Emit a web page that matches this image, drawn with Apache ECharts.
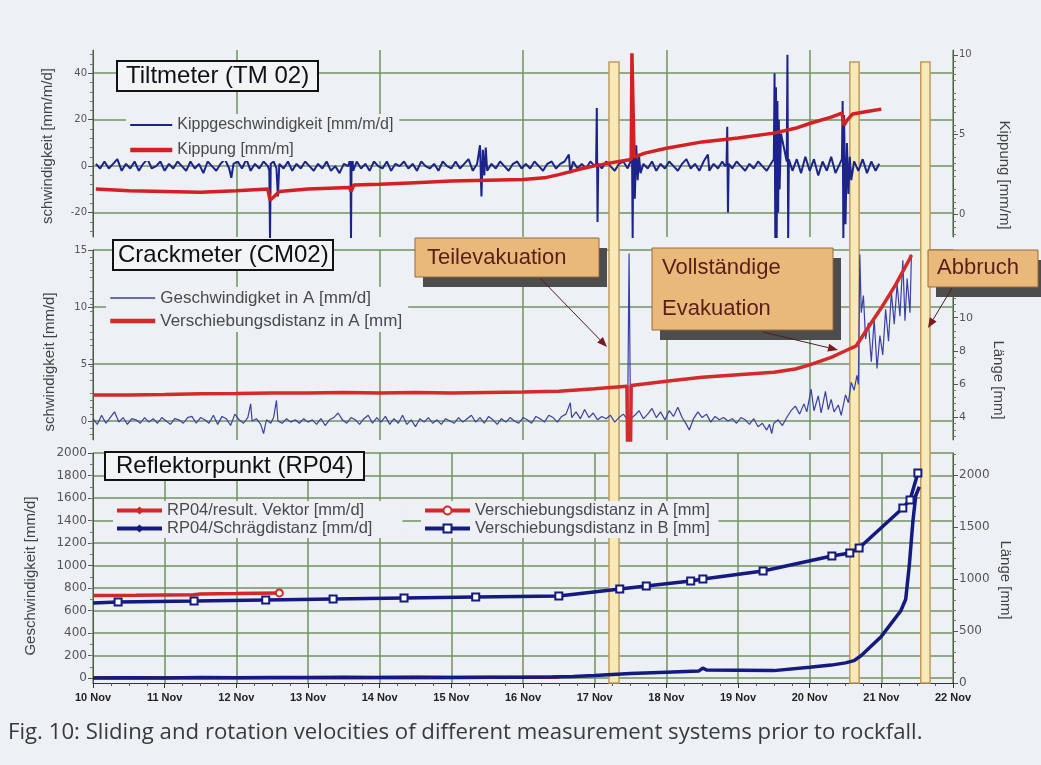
<!DOCTYPE html>
<html lang="de">
<head>
<meta charset="UTF-8">
<title>Sliding and rotation velocities prior to rockfall</title>
<script src="https://cdn.jsdelivr.net/npm/echarts@6.0.0/dist/echarts.min.js"></script>
<style>
  body { margin: 0; background: #edf0f4; }
  #main { width: 1041px; height: 765px; }
</style>
</head>
<body>
<div id="main"></div>
<script type="text/javascript">
// x values are days of November
var dayTicks = [10, 11, 12, 13, 14, 15, 16, 17, 18, 19, 20, 21, 22];

// evacuation / abort periods (shaded bands)
var bandRanges = [[17.2, 17.34], [20.56, 20.69], [21.55, 21.68]];

// --- Tiltmeter TM 02 ---
var tiltRate = [
  [10.04,1],[10.1,-1],[10.16,2],[10.22,-1],[10.28,1],[10.34,3],[10.4,-2],[10.46,1],[10.52,-1],[10.58,2],
  [10.64,-2],[10.7,1],[10.76,3],[10.82,-1],[10.88,0],[10.94,2],[11.0,-2],[11.06,1],[11.12,-1],[11.18,2],
  [11.24,0],[11.3,-2],[11.36,2],[11.42,-1],[11.48,1],[11.54,-3],[11.6,2],[11.66,0],[11.72,-2],[11.78,1],
  [11.84,3],[11.9,-1],[11.93,-5],[11.96,1],[12.02,2],[12.08,-1],[12.14,3],[12.2,-2],[12.26,1],[12.32,-1],
  [12.38,2],[12.44,0],[12.46,-2],[12.47,-31],[12.48,1],[12.52,2],[12.56,-1],[12.58,-13],[12.6,1],[12.66,-1],
  [12.72,2],[12.78,-2],[12.84,1],[12.9,-1],[12.96,2],[13.02,0],[13.08,-2],[13.14,1],[13.2,-1],[13.26,2],
  [13.32,-2],[13.38,0],[13.44,-3],[13.5,1],[13.56,0],[13.58,2],[13.59,14],[13.6,-31],[13.61,11],[13.63,-2],
  [13.68,2],[13.74,-1],[13.8,1],[13.86,-2],[13.92,2],[13.98,0],[14.04,-1],[14.1,2],[14.16,-2],[14.22,1],
  [14.28,0],[14.34,2],[14.4,-1],[14.46,1],[14.52,-2],[14.58,2],[14.64,0],[14.7,-1],[14.76,1],[14.82,-2],
  [14.88,2],[14.94,0],[15.0,-1],[15.06,2],[15.12,-1],[15.18,1],[15.24,3],[15.3,-2],[15.36,1],[15.4,9],
  [15.42,-13],[15.44,7],[15.46,-4],[15.48,8],[15.5,-2],[15.56,1],[15.62,-1],[15.68,2],[15.74,0],[15.8,-2],
  [15.86,1],[15.92,2],[15.98,-1],[16.04,1],[16.1,-1],[16.16,2],[16.22,0],[16.28,-2],[16.34,1],[16.4,2],
  [16.46,-1],[16.52,1],[16.58,2],[16.64,5],[16.66,-3],[16.7,2],[16.76,-1],[16.82,1],[16.88,-1],[16.94,2],
  [17.0,0],[17.02,1],[17.03,25],[17.04,-24],[17.05,1],[17.1,-1],[17.16,2],[17.22,0],[17.28,-2],[17.34,1],
  [17.4,2],[17.46,-1],[17.5,2],[17.52,10],[17.53,-31],[17.54,16],[17.56,-14],[17.58,9],[17.6,-6],[17.62,4],
  [17.64,-3],[17.68,1],[17.74,-1],[17.8,2],[17.86,-2],[17.92,1],[17.98,-1],[18.04,2],[18.1,0],[18.16,-2],
  [18.22,1],[18.28,3],[18.34,-1],[18.4,1],[18.46,-2],[18.52,2],[18.58,5],[18.6,-2],[18.66,1],[18.72,-1],
  [18.78,2],[18.82,0],[18.84,1],[18.85,17],[18.86,-20],[18.87,1],[18.92,-1],[18.98,2],[19.04,0],[19.1,-2],
  [19.16,1],[19.22,-1],[19.28,2],[19.34,0],[19.4,-2],[19.46,1],[19.5,3],[19.51,40],[19.52,-31],[19.53,34],
  [19.54,-31],[19.55,28],[19.56,-20],[19.57,20],[19.58,-10],[19.6,14],[19.64,8],[19.68,2],[19.69,48],[19.7,-31],
  [19.71,3],[19.76,-2],[19.82,3],[19.88,-3],[19.94,4],[20.0,-2],[20.06,3],[20.12,-4],[20.18,2],[20.24,-2],
  [20.3,4],[20.36,-3],[20.42,1],[20.45,3],[20.46,28],[20.47,-31],[20.48,22],[20.5,-25],[20.52,10],[20.54,-12],
  [20.56,4],[20.58,-6],[20.62,2],[20.68,-2],[20.74,3],[20.8,-3],[20.86,2],[20.92,-2],[20.97,1]
];
var tiltAngle = [
  [10.04,1.6],[10.5,1.5],[11.0,1.45],[11.5,1.4],[12.0,1.5],[12.44,1.6],[12.47,0.9],[12.52,1.1],[12.6,1.45],
  [13.0,1.6],[13.58,1.7],[13.6,1.45],[13.64,1.85],[14.0,1.9],[14.5,2.0],[15.0,2.1],[15.5,2.15],[16.0,2.2],
  [16.3,2.3],[16.5,2.5],[16.8,2.85],[17.0,3.05],[17.3,3.3],[17.51,3.45],[17.52,10.1],[17.54,10.1],[17.55,3.6],
  [17.7,3.85],[18.0,4.15],[18.5,4.55],[19.0,4.8],[19.5,5.1],[19.8,5.4],[20.0,5.7],[20.3,6.1],[20.45,6.35],
  [20.48,5.6],[20.52,5.9],[20.6,6.3],[20.8,6.45],[21.0,6.6]
];

// --- Crackmeter CM02 ---
var crackRate = [
  [10.0,0.2],[10.06,-0.3],[10.12,0.5],[10.18,-0.2],[10.24,0.3],[10.3,0.8],[10.36,-0.1],[10.42,0.3],[10.48,-0.3],
  [10.54,0.2],[10.6,0.1],[10.66,-0.2],[10.72,0.3],[10.78,-0.1],[10.84,0.2],[10.9,-0.2],[10.96,0.3],[11.02,0.0],
  [11.08,-0.3],[11.14,0.2],[11.2,0.1],[11.26,-0.2],[11.32,0.3],[11.38,0.4],[11.44,-0.2],[11.5,0.3],[11.56,0.1],
  [11.62,-0.2],[11.68,0.5],[11.74,-0.3],[11.8,0.4],[11.86,0.2],[11.92,-0.4],[11.98,0.6],[12.04,0.1],[12.1,-0.2],
  [12.16,0.3],[12.2,1.5],[12.22,0.0],[12.28,0.2],[12.34,-0.3],[12.38,-1.1],[12.42,0.1],[12.48,-0.2],[12.52,0.3],
  [12.56,1.8],[12.58,0.0],[12.64,-0.2],[12.7,0.2],[12.76,-0.1],[12.82,0.1],[12.88,-0.2],[12.94,0.2],[13.0,-0.1],
  [13.06,0.1],[13.12,-0.3],[13.18,0.2],[13.24,-0.4],[13.3,0.1],[13.36,0.3],[13.42,0.7],[13.48,0.1],[13.54,-0.2],
  [13.6,0.3],[13.66,0.1],[13.72,-0.3],[13.78,0.2],[13.84,0.5],[13.9,-0.2],[13.96,0.3],[14.02,-0.1],[14.08,0.4],
  [14.14,-0.3],[14.2,0.2],[14.26,-0.2],[14.32,0.5],[14.38,-0.3],[14.44,0.1],[14.5,-0.5],[14.56,0.2],[14.62,-0.1],
  [14.68,0.3],[14.74,-0.2],[14.8,0.1],[14.86,-0.3],[14.92,0.2],[14.98,0.0],[15.04,-0.2],[15.1,0.3],[15.16,-0.1],
  [15.22,0.2],[15.28,0.5],[15.34,-0.1],[15.4,0.3],[15.46,-0.2],[15.52,0.4],[15.58,0.1],[15.64,-0.3],[15.7,0.2],
  [15.76,-0.1],[15.82,0.3],[15.88,0.0],[15.94,-0.2],[16.0,0.3],[16.06,0.1],[16.12,-0.2],[16.18,0.4],[16.24,0.2],
  [16.3,-0.1],[16.36,0.5],[16.42,0.3],[16.48,-0.1],[16.54,0.4],[16.6,0.6],[16.66,1.6],[16.68,0.3],[16.74,0.8],
  [16.8,0.2],[16.86,1.0],[16.92,0.3],[16.98,0.7],[17.04,0.1],[17.1,0.4],[17.16,0.2],[17.22,0.5],[17.28,-0.1],
  [17.34,0.3],[17.4,0.6],[17.46,0.1],[17.48,14.7],[17.5,0.2],[17.56,0.5],[17.62,0.9],[17.68,0.2],[17.74,0.6],
  [17.8,1.1],[17.86,0.3],[17.92,0.8],[17.98,0.1],[18.04,0.9],[18.1,0.4],[18.16,1.2],[18.22,0.3],[18.28,-0.3],
  [18.32,-0.8],[18.38,0.2],[18.44,0.8],[18.5,0.3],[18.56,0.6],[18.62,-0.1],[18.68,0.4],[18.74,0.1],[18.8,0.3],
  [18.86,0.0],[18.92,0.2],[18.98,-0.2],[19.04,0.3],[19.1,0.1],[19.16,-0.3],[19.22,0.2],[19.28,-0.5],[19.34,-0.2],
  [19.4,-0.8],[19.44,-0.3],[19.47,-1.1],[19.5,-0.2],[19.56,0.1],[19.62,-0.4],[19.68,0.3],[19.74,0.9],[19.8,1.3],
  [19.86,0.6],[19.92,1.5],[19.96,0.8],[20.02,2.8],[20.06,0.9],[20.12,2.2],[20.16,0.7],[20.22,2.6],[20.26,1.0],
  [20.3,1.9],[20.34,0.8],[20.4,1.4],[20.44,0.5],[20.5,2.3],[20.54,1.6],[20.58,3.4],[20.62,2.7],[20.66,4.0],
  [20.68,3.2],[20.7,14.6],[20.72,9.5],[20.75,11.0],[20.78,7.2],[20.82,8.6],[20.86,5.2],[20.9,8.9],[20.94,4.6],
  [20.98,7.5],[21.02,5.8],[21.06,9.8],[21.1,7.0],[21.14,11.3],[21.18,8.5],[21.22,12.0],[21.26,9.2],[21.3,14.1],
  [21.33,8.8],[21.36,12.5],[21.4,9.5],[21.42,14.6]
];
var crackDist = [
  [10.0,5.33],[10.5,5.33],[11.0,5.35],[11.5,5.4],[12.0,5.42],[12.5,5.45],[13.0,5.45],[13.5,5.47],[14.0,5.45],
  [14.5,5.47],[15.0,5.45],[15.5,5.48],[16.0,5.5],[16.5,5.55],[17.0,5.7],[17.45,5.85],[17.46,2.0],[17.5,2.0],
  [17.51,5.9],[18.0,6.15],[18.5,6.4],[19.0,6.55],[19.5,6.7],[19.8,6.9],[20.0,7.15],[20.3,7.6],[20.5,8.0],
  [20.65,8.3],[20.8,9.3],[21.0,10.6],[21.2,12.0],[21.4,13.6],[21.42,13.8]
];

// --- Reflektorpunkt RP04 ---
var rpVector = [[10.0,2],[12.0,3],[14.0,4],[16.0,6],[16.5,8]];
var rpSlope = [
  [10.0,0],[10.5,2],[11.0,1],[11.5,4],[12.0,2],[12.5,5],[13.0,4],[13.5,6],[14.0,4],[14.5,6],[15.0,5],[15.5,7],
  [16.0,6],[16.4,9],[16.7,14],[17.0,22],[17.5,40],[18.0,52],[18.45,62],[18.51,88],[18.56,72],[19.0,70],[19.5,66],
  [20.0,95],[20.3,115],[20.5,135],[20.62,155],[20.72,200],[21.0,370],[21.27,596],[21.34,700],[21.39,1000],
  [21.44,1390],[21.48,1620],[21.53,1700]
];
var rpDistA = [[10.0,842],[10.6,844],[11.4,848],[11.5,856],[12.0,860],[12.6,866]];
var rpDistB = [
  [10.0,769],[10.35,779],[11.41,788],[12.41,798],[13.35,808],[14.34,817],[15.34,827],[16.5,837],[17.35,904],
  [17.72,933],[18.34,981],[18.51,1000],[19.35,1077],[20.31,1221],[20.56,1250],[20.69,1298],[21.3,1683],
  [21.4,1760],[21.51,2019]
];

var bg = '#edf0f4';
var gridGreen = '#6f9560';
var labelFont = { color: '#555', fontFamily: 'DejaVu Sans', fontSize: 10 };

function yAxisFor(gridIndex, min, max, ticks, right, fontSize) {
  return {
    type: 'value', gridIndex: gridIndex, position: right ? 'right' : 'left',
    min: min, max: max,
    axisLine: { show: true, lineStyle: { color: '#555', width: 1 } },
    axisTick: { show: true, length: 5, customValues: ticks, lineStyle: { color: '#555' } },
    minorTick: { show: true, splitNumber: 5, length: 3, lineStyle: { color: '#777' } },
    axisLabel: Object.assign({ customValues: ticks, margin: 6, formatter: function (v) { return String(v); } },
      labelFont, { fontSize: fontSize }),
    splitLine: { show: !right, lineStyle: { color: gridGreen, width: 1.5 } }
  };
}

function xAxisFor(gridIndex, interval, withLabels) {
  return {
    type: 'value', gridIndex: gridIndex, min: 10, max: 22, interval: interval,
    axisLine: { show: withLabels, onZero: false, lineStyle: { color: '#333' } },
    axisTick: { show: withLabels, length: 5, lineStyle: { color: '#333' } },
    minorTick: { show: withLabels, splitNumber: 4, length: 3, lineStyle: { color: '#555' } },
    axisLabel: {
      show: withLabels, margin: 9, fontSize: 11, fontWeight: 'bold', color: '#222',
      fontFamily: 'Liberation Sans',
      formatter: function (v) { return v + ' Nov'; }
    },
    splitLine: { show: true, lineStyle: { color: gridGreen, width: 1.5 } }
  };
}

// small arrow from a note box to a band
function arrow(x0, y0, x1, y1) {
  var len = Math.sqrt((x1 - x0) * (x1 - x0) + (y1 - y0) * (y1 - y0));
  var ux = (x1 - x0) / len, uy = (y1 - y0) / len;
  var bx = x1 - 10 * ux, by = y1 - 10 * uy;
  return [
    { type: 'line', z: 100, shape: { x1: x0, y1: y0, x2: bx, y2: by }, style: { stroke: '#4a2020', lineWidth: 1 } },
    { type: 'polygon', z: 100, shape: { points: [[x1, y1], [bx - 4 * uy, by + 4 * ux], [bx + 4 * uy, by - 4 * ux]] },
      style: { fill: '#7a1a1a' } }
  ];
}

function noteBox(x, y, w, h, lines) {
  var els = [
    { type: 'rect', z: 99, shape: { x: x + 8, y: y + 10, width: w, height: h }, style: { fill: '#4d4d4d' } },
    { type: 'rect', z: 100, shape: { x: x, y: y, width: w, height: h },
      style: { fill: '#e9b97c', stroke: '#9a6a3a', lineWidth: 1 } }
  ];
  lines.forEach(function (l) {
    els.push({ type: 'text', z: 101, x: l[0], y: l[1],
      style: { text: l[2], fontSize: 22, fontFamily: 'Liberation Sans', fill: '#5a1e16',
               textAlign: 'left', textVerticalAlign: 'middle' } });
  });
  return els;
}

function axisName(x, y, text, rot) {
  return { type: 'text', z: 50, x: x, y: y, rotation: rot,
    style: { text: text, fontSize: 15, fontFamily: 'Liberation Sans', fill: '#444',
             textAlign: 'center', textVerticalAlign: 'middle' } };
}

var graphics = []
  .concat([
    axisName(48, 146, 'schwindigkeit [mm/m/d]', Math.PI / 2),
    axisName(1004, 175, 'Kippung [mm/m]', -Math.PI / 2),
    axisName(50, 362, 'schwindigkeit [mm/d]', Math.PI / 2),
    axisName(998, 380, 'Länge [mm]', -Math.PI / 2),
    axisName(31, 576, 'Geschwindigkeit [mm/d]', Math.PI / 2),
    axisName(1005, 580, 'Länge [mm]', -Math.PI / 2)
  ])
  .concat(noteBox(415, 238, 184, 39, [[427, 258, 'Teilevakuation']]))
  .concat(noteBox(652, 248, 181, 82, [[662, 268, 'Vollständige'], [662, 309, 'Evakuation']]))
  .concat(noteBox(928, 250, 110, 37, [[937, 268, 'Abbruch']]))
  .concat(arrow(540, 278, 607, 347))
  .concat(arrow(763, 332, 838, 350))
  .concat(arrow(952, 288, 928, 328));

var titleStyle = { fontSize: 24, fontWeight: 'normal', color: '#111', fontFamily: 'Liberation Sans' };
var legendText = { color: '#4a4a4a', fontFamily: 'Liberation Sans' };
// plain line icons (no marker) for the upper two legends
var noMarker = { opacity: 0 };
var thick = { width: 4 };

var myChart = echarts.init(document.getElementById('main'));

var option = {
  backgroundColor: bg,
  animation: false,
  title: [
    { text: 'Tiltmeter (TM 02)', left: 117, top: 61, padding: [3, 9], borderColor: '#111', borderWidth: 2,
      backgroundColor: '#f3f4f6', textStyle: titleStyle },
    { text: 'Crackmeter (CM02)', left: 113, top: 240, padding: [3, 5], borderColor: '#111', borderWidth: 2,
      backgroundColor: '#f3f4f6', textStyle: titleStyle },
    { text: 'Reflektorpunkt (RP04)', left: 105, top: 452, padding: [2, 11], borderColor: '#111', borderWidth: 2,
      backgroundColor: '#f3f4f6', textStyle: titleStyle },
    { text: 'Fig. 10: Sliding and rotation velocities of different measurement systems prior to rockfall.',
      left: 8, top: 722, padding: 0,
      textStyle: { fontSize: 22.2, fontWeight: 'normal', color: '#3a3a3a', fontFamily: 'Open Sans' } }
  ],
  legend: [
    { left: 126, top: 114, orient: 'vertical', selectedMode: false, itemWidth: 42, itemHeight: 12, itemGap: 7,
      backgroundColor: bg, padding: [2, 6, 2, 2], itemStyle: noMarker,
      textStyle: Object.assign({ fontSize: 16, lineHeight: 18 }, legendText),
      data: [
        { name: 'Kippgeschwindigkeit [mm/m/d]', lineStyle: { width: 2 } },
        { name: 'Kippung [mm/m]', lineStyle: { width: 4.5 } }
      ] },
    { left: 106, top: 287, orient: 'vertical', selectedMode: false, itemWidth: 45, itemHeight: 12, itemGap: 5,
      backgroundColor: bg, padding: [2, 6, 2, 2], itemStyle: noMarker,
      textStyle: Object.assign({ fontSize: 17, lineHeight: 18 }, legendText),
      data: [
        { name: 'Geschwindigket in A [mm/d]', lineStyle: { width: 1.5 } },
        { name: 'Verschiebungsdistanz in A [mm]', lineStyle: { width: 4.5 } }
      ] },
    { left: 113, top: 501, orient: 'vertical', selectedMode: false, itemWidth: 45, itemHeight: 10, itemGap: 1,
      backgroundColor: bg, padding: [1, 30, 1, 2],
      textStyle: Object.assign({ fontSize: 16.5, lineHeight: 16 }, legendText),
      data: [
        { name: 'RP04/result. Vektor [mm/d]', lineStyle: thick },
        { name: 'RP04/Schrägdistanz [mm/d]', lineStyle: thick }
      ] },
    { left: 421, top: 501, orient: 'vertical', selectedMode: false, itemWidth: 45, itemHeight: 10, itemGap: 1,
      backgroundColor: bg, padding: [1, 4, 1, 2],
      textStyle: Object.assign({ fontSize: 16.5, lineHeight: 16 }, legendText),
      data: [
        { name: 'Verschiebungsdistanz in A [mm] ', lineStyle: thick },
        { name: 'Verschiebungsdistanz in B [mm]', lineStyle: thick }
      ] }
  ],
  grid: [
    { left: 93, right: 88, top: 50, height: 187 },
    { left: 93, right: 88, top: 250, height: 190 },
    { left: 93, right: 88, top: 453, height: 230 },
    { left: 93, right: 88, top: 62, bottom: 82 }
  ],
  xAxis: [
    xAxisFor(0, 2, false),
    xAxisFor(1, 2, false),
    xAxisFor(2, 1, true),
    { type: 'value', gridIndex: 3, min: 10, max: 22, show: false }
  ],
  yAxis: [
    yAxisFor(0, -30.5, 50, [-20, 0, 20, 40], false, 10),
    yAxisFor(0, -1.4, 10.3, [0, 5, 10], true, 10),
    yAxisFor(1, -1.67, 15, [0, 5, 10, 15], false, 10),
    yAxisFor(1, 2.6, 14.1, [4, 6, 8, 10, 12], true, 11),
    yAxisFor(2, -44, 2000, [0, 200, 400, 600, 800, 1000, 1200, 1400, 1600, 1800, 2000], false, 12),
    yAxisFor(2, 0, 2211, [0, 500, 1000, 1500, 2000], true, 12),
    { type: 'value', gridIndex: 3, min: 0, max: 1, show: false }
  ],
  series: [
    {
      // shaded bands for the evacuation and abort times
      name: 'bands', type: 'line', xAxisIndex: 3, yAxisIndex: 6, z: 1, silent: true,
      data: [], symbol: 'none',
      markArea: {
        silent: true,
        itemStyle: { color: '#f7e9b8', borderColor: '#c29a5c', borderWidth: 1.5 },
        data: bandRanges.map(function (b) { return [{ xAxis: b[0] }, { xAxis: b[1] }]; })
      }
    },
    {
      name: 'Kippgeschwindigkeit [mm/m/d]', type: 'line', xAxisIndex: 0, yAxisIndex: 0,
      symbol: 'none', data: tiltRate, color: '#1c248c', lineStyle: { width: 2 }
    },
    {
      name: 'Kippung [mm/m]', type: 'line', xAxisIndex: 0, yAxisIndex: 1,
      symbol: 'none', data: tiltAngle, color: '#d42020', lineStyle: { width: 3.5 }
    },
    {
      name: 'Geschwindigket in A [mm/d]', type: 'line', xAxisIndex: 1, yAxisIndex: 2,
      symbol: 'none', data: crackRate, color: '#3b3fa8', lineStyle: { width: 1.2 }
    },
    {
      name: 'Verschiebungsdistanz in A [mm]', type: 'line', xAxisIndex: 1, yAxisIndex: 3,
      symbol: 'none', data: crackDist, color: '#d42a2a', lineStyle: { width: 3.5 }
    },
    {
      name: 'RP04/result. Vektor [mm/d]', type: 'line', xAxisIndex: 2, yAxisIndex: 4,
      symbol: 'diamond', symbolSize: 7, showSymbol: false, data: rpVector, color: '#d42828',
      lineStyle: { width: 3.5 }
    },
    {
      name: 'RP04/Schrägdistanz [mm/d]', type: 'line', xAxisIndex: 2, yAxisIndex: 4,
      symbol: 'diamond', symbolSize: 7, showSymbol: false, data: rpSlope, color: '#141a80',
      lineStyle: { width: 3.5 }
    },
    {
      name: 'Verschiebungsdistanz in A [mm] ', type: 'line', xAxisIndex: 2, yAxisIndex: 5,
      symbol: 'emptyCircle', symbolSize: 7, color: '#d42828',
      lineStyle: { width: 3.5, color: '#d42828' },
      itemStyle: { borderColor: '#d42828', borderWidth: 1.5 },
      data: rpDistA.map(function (p, i) {
        return i === rpDistA.length - 1 ? { value: p } : { value: p, symbol: 'none' };
      })
    },
    {
      name: 'Verschiebungsdistanz in B [mm]', type: 'line', xAxisIndex: 2, yAxisIndex: 5,
      symbol: 'emptyRect', symbolSize: 7, color: '#141a80',
      lineStyle: { width: 3.5, color: '#141a80' },
      itemStyle: { borderColor: '#141a80', borderWidth: 1.5 },
      data: rpDistB.map(function (p, i) {
        return i === 0 ? { value: p, symbol: 'none' } : { value: p };
      })
    }
  ],
  graphic: graphics
};

myChart.setOption(option);
</script>
</body>
</html>
